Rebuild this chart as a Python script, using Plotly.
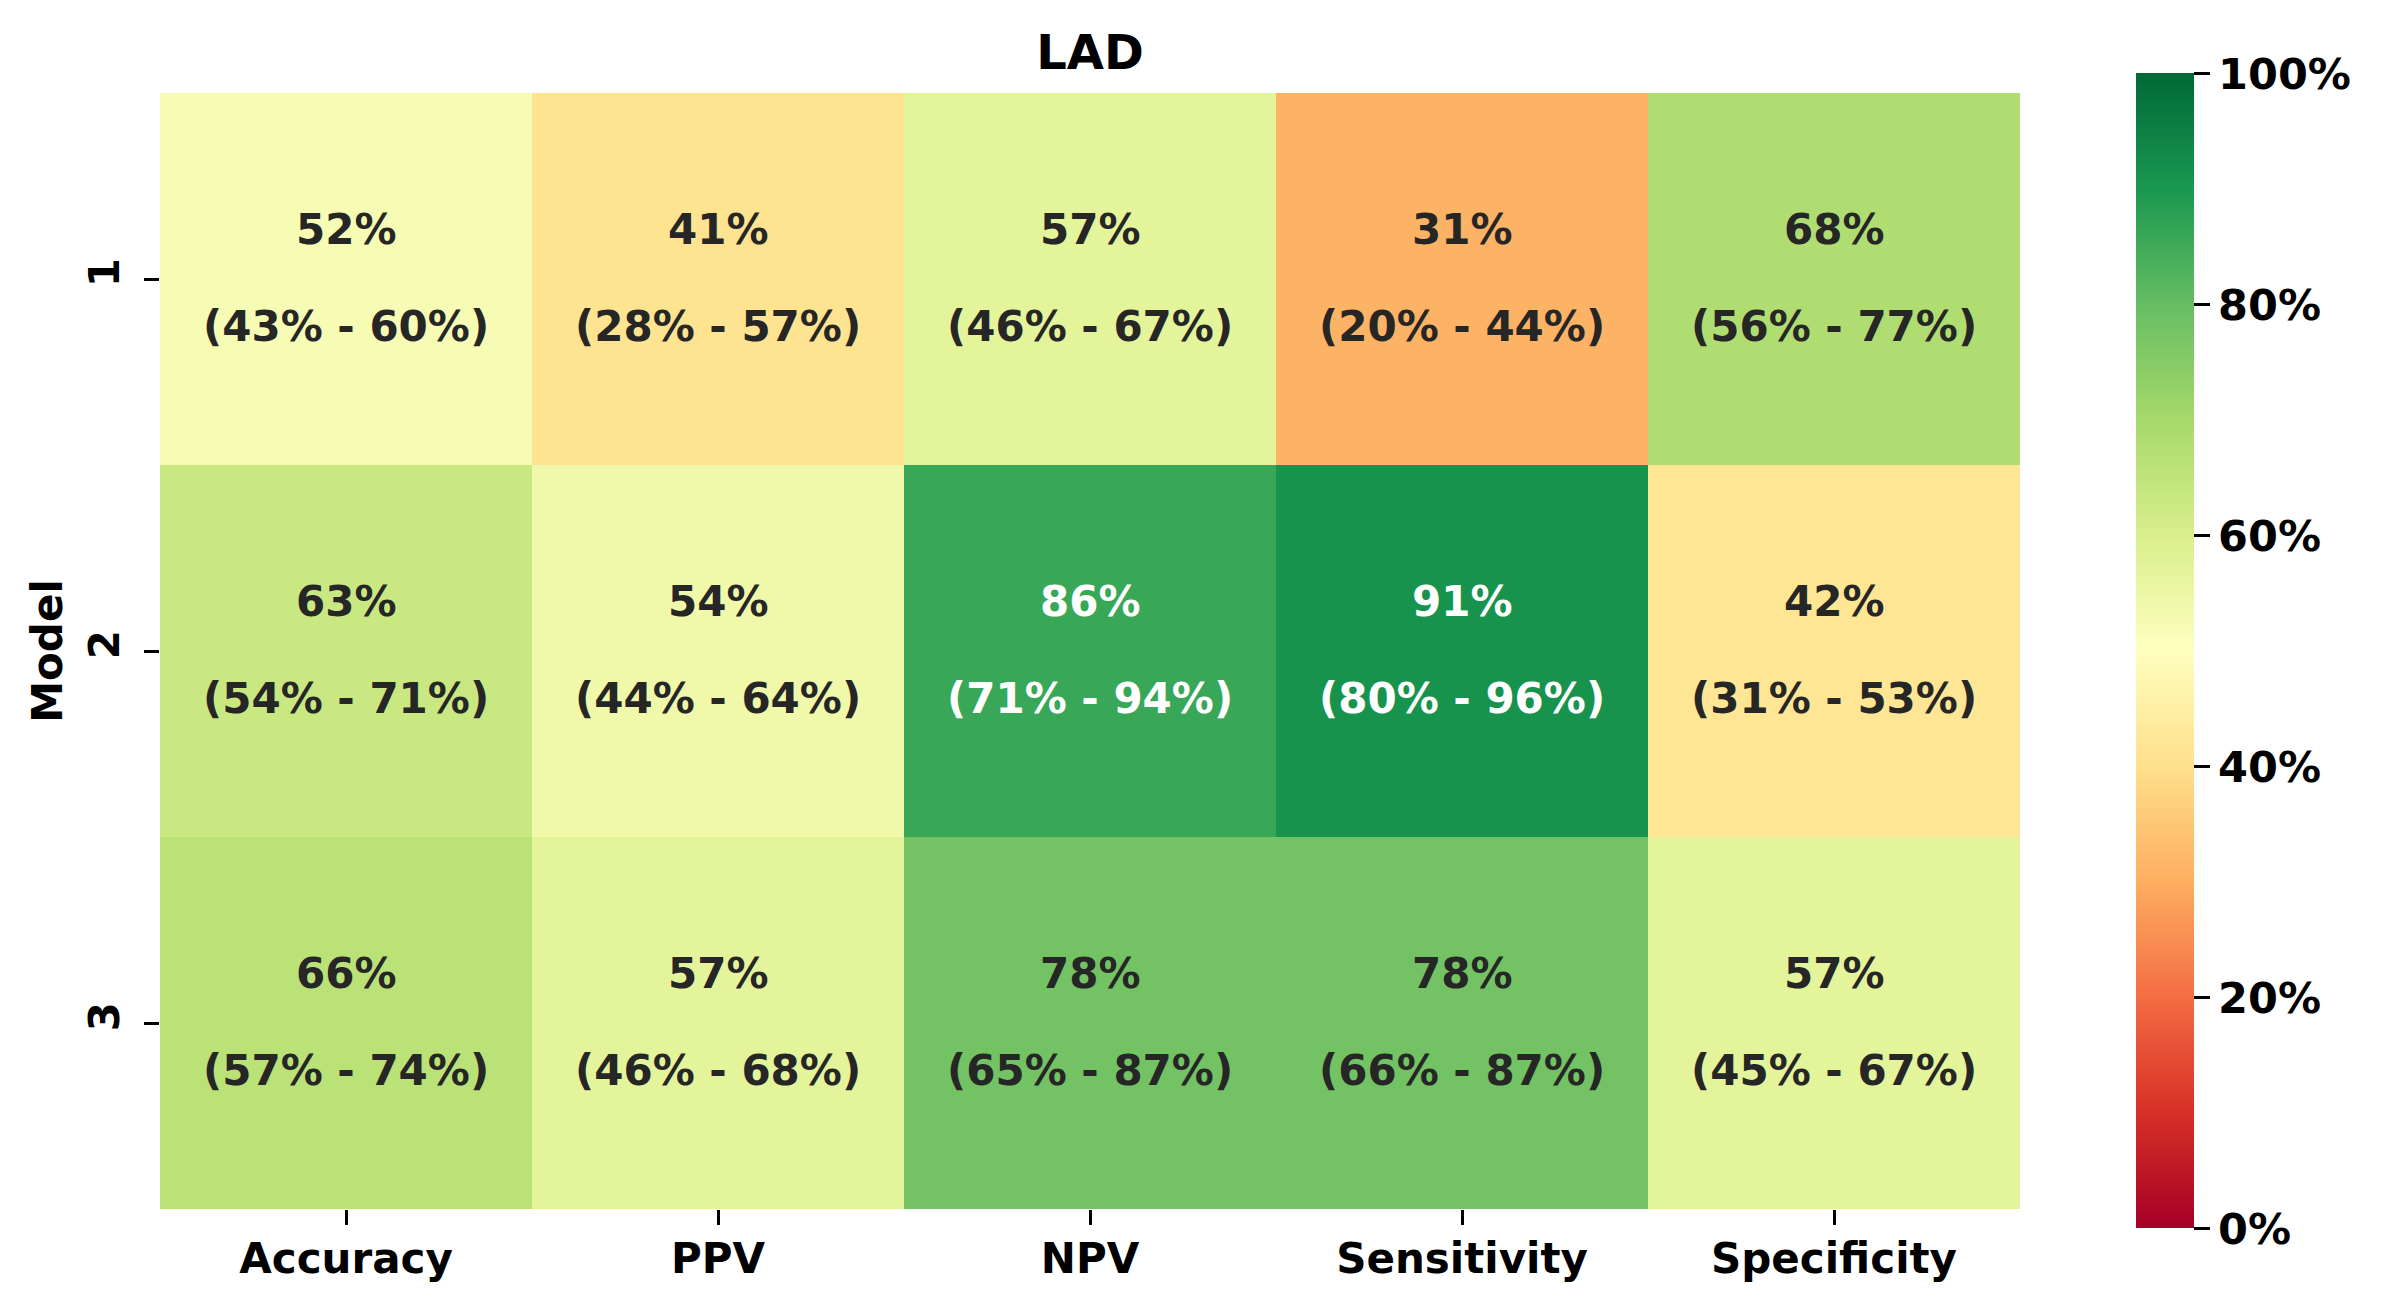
import plotly.graph_objects as go

metrics = ['Accuracy', 'PPV', 'NPV', 'Sensitivity', 'Specificity']
models = ['1', '2', '3']

# point estimates (%), one row per model
values = [
    [52, 41, 57, 31, 68],
    [63, 54, 86, 91, 42],
    [66, 57, 78, 78, 57],
]
ci_low = [
    [43, 28, 46, 20, 56],
    [54, 44, 71, 80, 31],
    [57, 46, 65, 66, 45],
]
ci_high = [
    [60, 57, 67, 44, 77],
    [71, 64, 94, 96, 53],
    [74, 68, 87, 87, 67],
]
cbar_ticks = [0, 20, 40, 60, 80, 100]

FONT = 'DejaVu Sans'
DARK = '#262626'

fig = go.Figure()
fig.add_trace(go.Heatmap(
    z=values, x=metrics, y=models,
    colorscale='RdYlGn', zmin=0, zmax=100,
    hoverinfo='skip',
    colorbar=dict(
        thickness=58, len=1155, lenmode='pixels',
        x=1.0624, xanchor='left', xpad=0,
        y=0.5, yanchor='middle', ypad=0,
        outlinewidth=0,
        tickvals=cbar_ticks, ticktext=[f'{t}%' for t in cbar_ticks],
        ticks='outside', ticklen=16, tickwidth=3, tickcolor='black',
        tickfont=dict(family=FONT, size=43, color='black', weight='bold'),
    ),
))

# annotations placed by category index (string '1' would be read as an index)
for i in range(len(models)):
    for j in range(len(metrics)):
        col = 'white' if values[i][j] > 80 else DARK
        fig.add_annotation(x=j, y=i, text=f'{values[i][j]}%', showarrow=False,
                           yshift=50, font=dict(family=FONT, size=42, color=col, weight='bold'))
        fig.add_annotation(x=j, y=i, text=f'({ci_low[i][j]}% - {ci_high[i][j]}%)', showarrow=False,
                           yshift=-47, font=dict(family=FONT, size=42, color=col, weight='bold'))

# page body adds an 8px offset, so the figure is a little smaller than the window
fig.update_layout(
    width=2365, height=1294,
    margin=dict(l=152, r=353, t=85, b=93, autoexpand=False),
    paper_bgcolor='white', plot_bgcolor='white',
    title=dict(text='LAD', x=0.5, xref='paper', xanchor='center',
               y=1, yref='paper', yanchor='bottom', pad=dict(b=24),
               font=dict(family=FONT, size=48, color='black', weight='bold')),
)
fig.update_xaxes(type='category', range=[-0.5, 4.5], showgrid=False, zeroline=False,
                 ticks='outside', ticklen=15, tickwidth=3, tickcolor='black',
                 ticklabelstandoff=-2,
                 tickfont=dict(family=FONT, size=42, color='black', weight='bold'))
fig.update_yaxes(type='category', range=[2.5, -0.5], showgrid=False, zeroline=False,
                 ticks='outside', ticklen=15, tickwidth=3, tickcolor='black', tickangle=-90,
                 ticklabelstandoff=8,
                 tickfont=dict(family=FONT, size=42, color='black', weight='bold'),
                 title=dict(text='Model', standoff=4,
                            font=dict(family=FONT, size=42, color='black', weight='bold')))

fig.write_html('out.html')
